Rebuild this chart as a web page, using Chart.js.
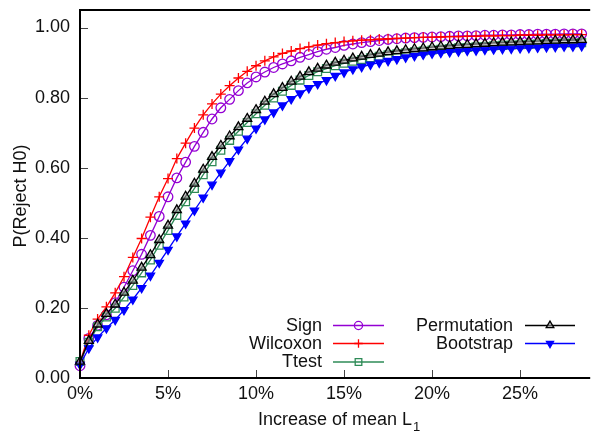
<!DOCTYPE html>
<html>
<head>
<meta charset="utf-8">
<script src="https://cdn.jsdelivr.net/npm/chart.js@4.4.0/dist/chart.umd.min.js"></script>
<style>
  html, body { margin: 0; padding: 0; background: #fff; overflow: hidden; }
</style>
</head>
<body>
<canvas id="powerChart" width="592" height="437"></canvas>
<script>
// ======================
// Data
// ======================
const shift = [
    0, 0.5, 1, 1.5, 2, 2.5, 3, 3.5, 4, 4.5, 5, 5.5, 6, 6.5, 7, 7.5, 8, 8.5, 9, 9.5,
    10, 10.5, 11, 11.5, 12, 12.5, 13, 13.5, 14, 14.5, 15, 15.5, 16, 16.5, 17, 17.5, 18, 18.5, 19, 19.5,
    20, 20.5, 21, 21.5, 22, 22.5, 23, 23.5, 24, 24.5, 25, 25.5, 26, 26.5, 27, 27.5, 28, 28.5
];

const sign = [
    0.035, 0.113, 0.150, 0.180, 0.215, 0.259, 0.306, 0.353, 0.407, 0.461, 0.517, 0.571, 0.616, 0.661, 0.701, 0.739, 0.771, 0.795, 0.820, 0.842,
    0.859, 0.873, 0.886, 0.896, 0.905, 0.915, 0.923, 0.931, 0.938, 0.943, 0.949, 0.953, 0.957, 0.960, 0.963, 0.966, 0.968, 0.970, 0.971, 0.972,
    0.973, 0.974, 0.975, 0.976, 0.976, 0.977, 0.978, 0.978, 0.979, 0.979, 0.980, 0.980, 0.981, 0.981, 0.981, 0.982, 0.982, 0.982
];

const wilcoxon = [
    0.045, 0.122, 0.168, 0.203, 0.243, 0.289, 0.344, 0.398, 0.459, 0.517, 0.569, 0.626, 0.670, 0.713, 0.751, 0.782, 0.810, 0.834, 0.856, 0.875,
    0.891, 0.905, 0.916, 0.926, 0.933, 0.940, 0.945, 0.950, 0.954, 0.957, 0.960, 0.962, 0.964, 0.965, 0.967, 0.968, 0.969, 0.970, 0.971, 0.972,
    0.972, 0.973, 0.974, 0.974, 0.975, 0.975, 0.976, 0.976, 0.977, 0.977, 0.978, 0.978, 0.978, 0.979, 0.979, 0.979, 0.980, 0.980
];

const ttest = [
    0.047, 0.102, 0.146, 0.174, 0.199, 0.231, 0.264, 0.300, 0.337, 0.379, 0.421, 0.464, 0.503, 0.541, 0.580, 0.617, 0.650, 0.678, 0.704, 0.729,
    0.754, 0.778, 0.799, 0.818, 0.835, 0.850, 0.863, 0.874, 0.883, 0.891, 0.898, 0.904, 0.909, 0.914, 0.918, 0.922, 0.925, 0.928, 0.931, 0.933,
    0.936, 0.938, 0.940, 0.942, 0.943, 0.945, 0.946, 0.948, 0.949, 0.950, 0.951, 0.952, 0.953, 0.954, 0.955, 0.956, 0.956, 0.957
];

const permutation = [
    0.047, 0.106, 0.153, 0.183, 0.210, 0.244, 0.278, 0.315, 0.351, 0.394, 0.435, 0.479, 0.518, 0.555, 0.595, 0.631, 0.663, 0.690, 0.716, 0.740,
    0.765, 0.789, 0.810, 0.828, 0.846, 0.860, 0.873, 0.883, 0.892, 0.900, 0.906, 0.912, 0.917, 0.922, 0.926, 0.930, 0.933, 0.936, 0.939, 0.941,
    0.944, 0.946, 0.948, 0.950, 0.951, 0.953, 0.954, 0.956, 0.957, 0.958, 0.959, 0.960, 0.961, 0.962, 0.963, 0.964, 0.964, 0.965
];

const bootstrap = [
    0.038, 0.085, 0.116, 0.142, 0.166, 0.194, 0.224, 0.257, 0.292, 0.329, 0.366, 0.404, 0.441, 0.478, 0.515, 0.552, 0.586, 0.619, 0.652, 0.683,
    0.712, 0.738, 0.758, 0.778, 0.796, 0.812, 0.827, 0.839, 0.850, 0.862, 0.872, 0.881, 0.888, 0.894, 0.900, 0.905, 0.910, 0.915, 0.919, 0.923,
    0.926, 0.928, 0.930, 0.932, 0.934, 0.935, 0.937, 0.938, 0.939, 0.940, 0.941, 0.942, 0.943, 0.944, 0.945, 0.946, 0.946, 0.947
];

const xTicks = [0, 5, 10, 15, 20, 25];
const yTicks = [0, 0.2, 0.4, 0.6, 0.8, 1.0];

const FONT = 'Liberation Sans, Arial, Helvetica, sans-serif';
const FSIZE = 18;

function points(values) {
    return values.map((v, i) => ({ x: shift[i], y: v }));
}

function series(label, values, color, style, extra) {
    return Object.assign({
        label: label,
        data: points(values),
        borderColor: color,
        backgroundColor: 'rgba(0,0,0,0)',
        pointBorderColor: color,
        pointBackgroundColor: 'rgba(0,0,0,0)',
        pointStyle: style,
        pointRadius: 4.5,
        pointBorderWidth: 1.3,
        borderWidth: 1.3,
        tension: 0
    }, extra || {});
}

const datasets = [
    series('Sign', sign, '#9400d3', 'circle', { pointRadius: 4.8, order: 5 }),
    series('Wilcoxon', wilcoxon, '#ff0000', 'cross', { pointRadius: 5, order: 4 }),
    series('Ttest', ttest, '#2e8b57', 'rect', { pointRadius: 5.5, order: 3 }),
    series('Permutation', permutation, '#000000', 'triangle', { pointRadius: 5.2, order: 1, pointBackgroundColor: 'rgba(160,160,160,0.6)' }),
    series('Bootstrap', bootstrap, '#0000ff', 'triangle', { pointRadius: 4.8, order: 2, pointRotation: 180, pointBackgroundColor: '#0000ff' })
];

// ======================
// Frame, inward ticks, titles and legend (gnuplot look)
// ======================
const frame = {
    id: 'frame',
    afterDraw(chart) {
        const ctx = chart.ctx;
        const area = chart.chartArea;
        const xs = chart.scales.x;
        const ys = chart.scales.y;

        ctx.save();
        // inward tick marks
        ctx.strokeStyle = '#444';
        ctx.lineWidth = 1;
        ctx.beginPath();
        yTicks.forEach(v => {
            const y = Math.round(ys.getPixelForValue(v)) + 0.5;
            ctx.moveTo(area.left, y);
            ctx.lineTo(area.left + 8, y);
        });
        xTicks.forEach(v => {
            const x = Math.round(xs.getPixelForValue(v)) + 0.5;
            ctx.moveTo(x, area.bottom);
            ctx.lineTo(x, area.bottom - 8);
        });
        ctx.stroke();

        // box (left, top, bottom)
        ctx.strokeStyle = '#000';
        ctx.lineWidth = 2;
        ctx.beginPath();
        ctx.moveTo(area.right + 5, area.top);
        ctx.lineTo(area.left, area.top);
        ctx.lineTo(area.left, area.bottom);
        ctx.lineTo(area.right + 5, area.bottom);
        ctx.stroke();

        // axis titles
        ctx.fillStyle = '#111';
        ctx.font = FSIZE + 'px ' + FONT;
        ctx.textBaseline = 'middle';
        ctx.textAlign = 'left';
        const main = 'Increase of mean L';
        const w = ctx.measureText(main).width;
        const tx = 258;
        ctx.fillText(main, tx, 420);
        ctx.font = '13px ' + FONT;
        ctx.fillText('1', tx + w + 1, 427);

        ctx.font = FSIZE + 'px ' + FONT;
        ctx.translate(21, 196);
        ctx.rotate(-Math.PI / 2);
        ctx.textAlign = 'center';
        ctx.fillText('P(Reject H0)', 0, 0);
        ctx.restore();

        // legend
        const entries = [
            { ds: 0, textRight: 322, x1: 333, x2: 384, y: 325 },
            { ds: 1, textRight: 322, x1: 333, x2: 384, y: 343 },
            { ds: 2, textRight: 322, x1: 333, x2: 384, y: 361.5 },
            { ds: 3, textRight: 513, x1: 525, x2: 575, y: 325 },
            { ds: 4, textRight: 513, x1: 525, x2: 575, y: 343 }
        ];
        ctx.save();
        entries.forEach(e => {
            const ds = chart.data.datasets[e.ds];
            ctx.fillStyle = '#111';
            ctx.font = FSIZE + 'px ' + FONT;
            ctx.textAlign = 'right';
            ctx.textBaseline = 'middle';
            ctx.fillText(ds.label, e.textRight, e.y + 1);

            ctx.strokeStyle = ds.borderColor;
            ctx.lineWidth = ds.borderWidth;
            ctx.beginPath();
            ctx.moveTo(e.x1, e.y + 0.5);
            ctx.lineTo(e.x2, e.y + 0.5);
            ctx.stroke();

            ctx.fillStyle = ds.pointBackgroundColor;
            ctx.strokeStyle = ds.pointBorderColor;
            ctx.lineWidth = ds.pointBorderWidth;
            Chart.helpers.drawPoint(ctx, {
                pointStyle: ds.pointStyle,
                radius: ds.pointRadius * 0.85,
                rotation: ds.pointRotation || 0,
                borderWidth: ds.pointBorderWidth
            }, (e.x1 + e.x2) / 2, e.y + 0.5);
        });
        ctx.restore();
    }
};

// ======================
// Power Chart
// ======================
const powerCanvas = document.getElementById('powerChart');

if (powerCanvas) {
    new Chart(powerCanvas, {
        type: 'line',
        data: { datasets: datasets },
        options: {
            responsive: false,
            animation: false,
            devicePixelRatio: 1,
            layout: { padding: { top: 10, left: 0, right: 0, bottom: 0 } },
            clip: false,
            scales: {
                x: {
                    type: 'linear',
                    min: 0,
                    max: 28.7,
                    afterFit: scale => {
                        scale.height = 59;
                        scale.paddingLeft = 0;
                        scale.paddingRight = 0;
                    },
                    border: { display: false },
                    grid: { display: false, drawTicks: false },
                    ticks: {
                        stepSize: 5,
                        includeBounds: false,
                        padding: 5,
                        maxRotation: 0,
                        color: '#111',
                        font: { family: FONT, size: FSIZE },
                        callback: v => v + '%'
                    }
                },
                y: {
                    min: 0,
                    max: 1.05,
                    afterFit: scale => {
                        scale.width = 80;
                        scale.paddingTop = 0;
                        scale.paddingBottom = 0;
                    },
                    border: { display: false },
                    grid: { display: false, drawTicks: false },
                    ticks: {
                        stepSize: 0.2,
                        includeBounds: false,
                        padding: 10,
                        color: '#111',
                        font: { family: FONT, size: FSIZE },
                        callback: v => Number(v).toFixed(2)
                    }
                }
            },
            plugins: {
                legend: { display: false },
                tooltip: { enabled: false }
            }
        },
        plugins: [frame]
    });
}
</script>
</body>
</html>
